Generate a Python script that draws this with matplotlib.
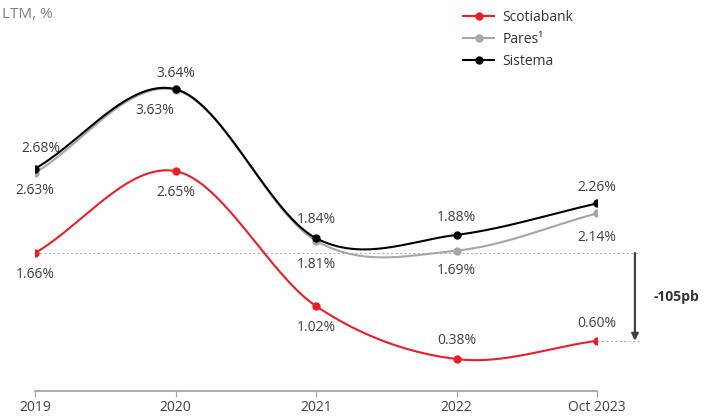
import numpy as np
import matplotlib
matplotlib.use("Agg")
import matplotlib.pyplot as plt
from matplotlib.lines import Line2D

plt.rcParams['font.family'] = ['Open Sans', 'DejaVu Sans']

categories = ["2019", "2020", "2021", "2022", "Oct 2023"]
scotiabank = [1.66, 2.65, 1.02, 0.38, 0.60]
pares = [2.63, 3.63, 1.81, 1.69, 2.14]
sistema = [2.68, 3.64, 1.84, 1.88, 2.26]
gap_label = "-105pb"

RED = "#ee1c25"
GRAY = "#a6a6a6"
BLACK = "#000000"
TXT = "#404040"


def catmull(x, y, n=60):
    x = np.asarray(x, float)
    y = np.asarray(y, float)
    m = np.zeros_like(y)
    m[1:-1] = (y[2:] - y[:-2]) / (x[2:] - x[:-2])
    m[0] = (y[1] - y[0]) / (x[1] - x[0])
    m[-1] = (y[-1] - y[-2]) / (x[-1] - x[-2])
    xs, ys = [], []
    for i in range(len(x) - 1):
        h = x[i + 1] - x[i]
        t = np.linspace(0, 1, n)
        h00 = 2 * t**3 - 3 * t**2 + 1
        h10 = t**3 - 2 * t**2 + t
        h01 = -2 * t**3 + 3 * t**2
        h11 = t**3 - t**2
        xs.append(x[i] + t * h)
        ys.append(h00 * y[i] + h10 * h * m[i] + h01 * y[i + 1] + h11 * h * m[i + 1])
    return np.concatenate(xs), np.concatenate(ys)


fig = plt.figure(figsize=(7.06, 4.19), dpi=100)
ax = fig.add_axes([35 / 706, (419 - 390.5) / 419, 562 / 706, 0.889])
x = np.arange(len(categories))

for vals, col, z in [(scotiabank, RED, 3), (pares, GRAY, 2), (sistema, BLACK, 4)]:
    sx, sy = catmull(x, vals)
    ax.plot(sx, sy, color=col, lw=1.5, zorder=z)
    ax.plot(x, vals, 'o', color=col, ms=5, zorder=z + 1)

ax.set_xlim(0, 4)
ax.set_ylim(0, 4.5)

# reference dotted lines
ax.plot([0, 4.3], [scotiabank[0], scotiabank[0]], ls=(0, (2, 2)), color="#b0b0b0", lw=0.8,
        clip_on=False, zorder=1)
ax.plot([4, 4.3], [scotiabank[-1], scotiabank[-1]], ls=(0, (2, 2)), color="#b0b0b0", lw=0.8,
        clip_on=False, zorder=1)
ax.annotate("", xy=(4.27, scotiabank[-1]), xytext=(4.27, scotiabank[0]),
            arrowprops=dict(arrowstyle="-|>", color="#404040", lw=1.6,
                            mutation_scale=10, shrinkA=0, shrinkB=0),
            annotation_clip=False)
ax.text(4.40, (scotiabank[0] + scotiabank[-1]) / 2, gap_label, fontsize=10,
        fontweight='bold', color="#333333", va='center', ha='left')


def lbl(i, v, dx=0, dy=0, va='bottom'):
    ax.annotate(f"{v:.2f}%", xy=(i, v), xytext=(dx, dy), textcoords='offset points',
                ha='center', va=va, fontsize=10, color=TXT)


# 2019
lbl(0, sistema[0], 4, 9)
lbl(0, pares[0], 0, -7, 'top')
lbl(0, scotiabank[0], 0, -10, 'top')
# 2020
lbl(1, sistema[1], 0, 6)
lbl(1, pares[1], -15, -9, 'top')
lbl(1, scotiabank[1], 0, -10, 'top')
# 2021
lbl(2, sistema[2], 0, 8)
lbl(2, pares[2], 0, -12, 'top')
lbl(2, scotiabank[2], 0, -10, 'top')
# 2022
lbl(3, sistema[3], 0, 7)
lbl(3, pares[3], 0, -9, 'top')
lbl(3, scotiabank[3], 0, 8)
# 2023
lbl(4, sistema[4], 0, 6)
lbl(4, pares[4], 0, -12, 'top')
lbl(4, scotiabank[4], 0, 7)

for s in ['top', 'right', 'left']:
    ax.spines[s].set_visible(False)
ax.spines['bottom'].set_color("#a0a0a0")
ax.spines['bottom'].set_linewidth(1.2)
ax.set_yticks([])
ax.set_xticks(x)
ax.set_xticklabels(categories, fontsize=10, color=TXT)
ax.tick_params(axis='x', length=4, color="#a0a0a0", pad=3)

fig.text(2 / 706, 1 - 14 / 419, "LTM, %", fontsize=11, color="#808080", va='center', ha='left')

handles = [Line2D([], [], color=c, marker='o', ms=5, lw=1.5) for c in (RED, GRAY, BLACK)]
ax.legend(handles, ["Scotiabank", "Pares\u00b9", "Sistema"], loc='upper left',
          bbox_to_anchor=(455 / 706, 1 - 2 / 419), bbox_transform=fig.transFigure,
          frameon=False, fontsize=10, handlelength=2.2, labelspacing=0.5,
          handletextpad=0.6, borderaxespad=0.2, labelcolor="#333333")

fig.savefig("out.png", dpi=100)
